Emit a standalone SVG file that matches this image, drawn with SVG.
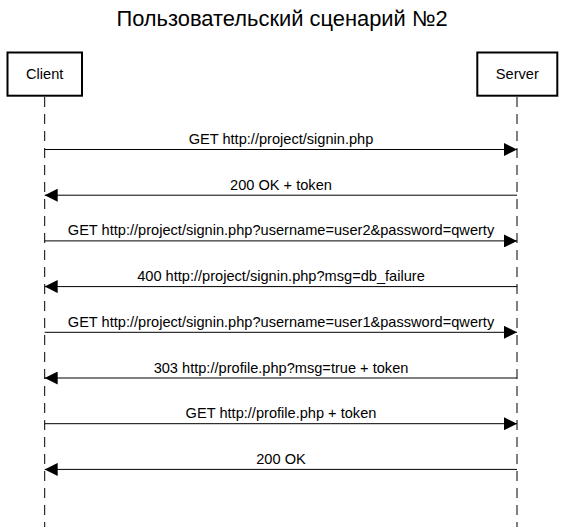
<svg xmlns="http://www.w3.org/2000/svg" width="564" height="527" viewBox="0 0 564 527">
<style>
.bg{fill:#ffffff}
.box{fill:#ffffff;stroke:#000000;stroke-width:2}
.life{stroke:#000000;stroke-width:1;stroke-dasharray:10 7;fill:none}
.msg{stroke:#000000;stroke-width:1;fill:none;marker-end:url(#arr)}
.t{font-family:"Liberation Sans",Arial,sans-serif;font-size:14.6px;fill:#000000;text-anchor:middle}
.title{font-family:"Liberation Sans",Arial,sans-serif;font-size:21.9px;fill:#000000;text-anchor:middle}
</style>
<defs>
<marker id="arr" markerUnits="userSpaceOnUse" markerWidth="14" markerHeight="13" refX="13" refY="6.5" orient="auto">
<path d="M0,0 L13,6.5 L0,13 z" fill="#000000"/>
</marker>
</defs>
<rect class="bg" x="0" y="0" width="564" height="527"/>
<text class="title" x="282" y="26">Пользовательский сценарий №2</text>
<g id="client">
<line class="life" x1="44.7" y1="97" x2="44.7" y2="527"/>
<rect class="box" x="7.5" y="52.5" width="74.5" height="43.2"/>
<text class="t" x="44.7" y="79">Client</text>
</g>
<g id="server">
<line class="life" x1="517" y1="97" x2="517" y2="527"/>
<rect class="box" x="477.3" y="52.5" width="80" height="43.2"/>
<text class="t" x="517.3" y="79">Server</text>
</g>
<g id="connectors">
<line class="msg" x1="44.7" y1="149.5" x2="517" y2="149.5"/>
<text class="t" x="281" y="144">GET http://project/signin.php</text>
<line class="msg" x1="517" y1="195.2" x2="44.7" y2="195.2"/>
<text class="t" x="281" y="189.7">200 OK + token</text>
<line class="msg" x1="44.7" y1="240.9" x2="517" y2="240.9"/>
<text class="t" x="281" y="235.4">GET http://project/signin.php?username=user2&amp;password=qwerty</text>
<line class="msg" x1="517" y1="286.6" x2="44.7" y2="286.6"/>
<text class="t" x="281" y="281.1">400 http://project/signin.php?msg=db_failure</text>
<line class="msg" x1="44.7" y1="332.3" x2="517" y2="332.3"/>
<text class="t" x="281" y="326.8">GET http://project/signin.php?username=user1&amp;password=qwerty</text>
<line class="msg" x1="517" y1="378" x2="44.7" y2="378"/>
<text class="t" x="281" y="372.5">303 http://profile.php?msg=true + token</text>
<line class="msg" x1="44.7" y1="423.7" x2="517" y2="423.7"/>
<text class="t" x="281" y="418.2">GET http://profile.php + token</text>
<line class="msg" x1="517" y1="469.4" x2="44.7" y2="469.4"/>
<text class="t" x="281" y="463.9">200 OK</text>
</g>
</svg>
